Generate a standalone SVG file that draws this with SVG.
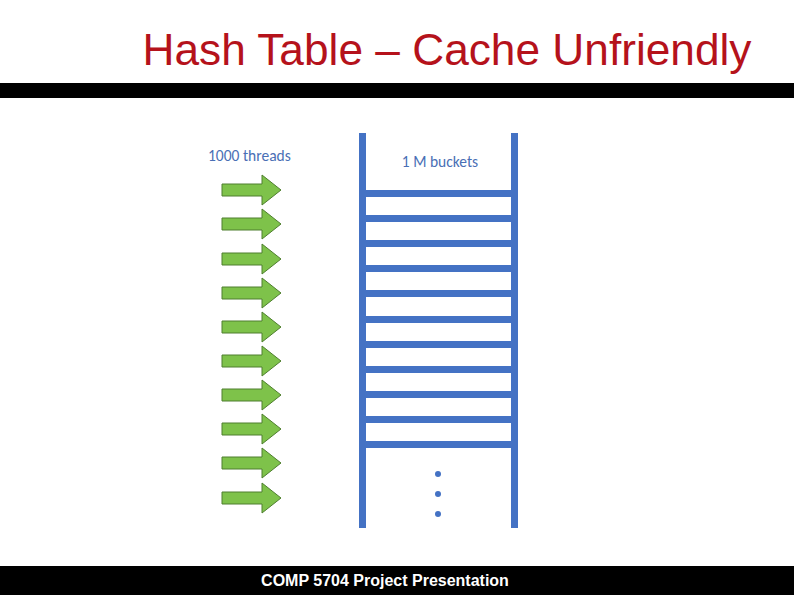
<svg xmlns="http://www.w3.org/2000/svg" width="794" height="595" viewBox="0 0 794 595">
<style>
.arr{fill:#7ec24a;stroke:#4f7f2f;stroke-width:1}
.rail{fill:#4472c4}
.lbl{font-family:Calibri,"Carlito","Liberation Sans",sans-serif;font-size:15.5px;fill:#4a6fb5}
</style>
<defs>
<polygon id="a" class="arr" points="222,-6 262,-6 262,-15 281,0 262,15 262,6 222,6"/>
</defs>
<rect width="794" height="595" fill="#fff"/>
<text x="447" y="65" text-anchor="middle" font-family="Liberation Sans,Arial,sans-serif" font-size="44" fill="#b5121b" textLength="609" lengthAdjust="spacingAndGlyphs">Hash Table – Cache Unfriendly</text>
<rect x="0" y="83" width="794" height="15" fill="#000"/>
<g id="threads">
<text class="lbl" x="208" y="161">1000 threads</text>
<use href="#a" y="190"/><use href="#a" y="224"/><use href="#a" y="259"/><use href="#a" y="293"/><use href="#a" y="327"/>
<use href="#a" y="361"/><use href="#a" y="395"/><use href="#a" y="429"/><use href="#a" y="463"/><use href="#a" y="498"/>
</g>
<g id="buckets">
<text class="lbl" x="440" y="167" text-anchor="middle">1 M buckets</text>
<rect class="rail" x="359" y="133" width="7" height="395"/>
<rect class="rail" x="511" y="133" width="7" height="395"/>
<rect class="rail" x="359" y="190" width="159" height="7"/>
<rect class="rail" x="359" y="215" width="159" height="7"/>
<rect class="rail" x="359" y="240" width="159" height="7"/>
<rect class="rail" x="359" y="265" width="159" height="7"/>
<rect class="rail" x="359" y="290" width="159" height="7"/>
<rect class="rail" x="359" y="316" width="159" height="7"/>
<rect class="rail" x="359" y="341" width="159" height="7"/>
<rect class="rail" x="359" y="366" width="159" height="7"/>
<rect class="rail" x="359" y="391" width="159" height="7"/>
<rect class="rail" x="359" y="416" width="159" height="7"/>
<rect class="rail" x="359" y="441" width="159" height="7"/>
<circle class="rail" cx="438" cy="474" r="3"/>
<circle class="rail" cx="438" cy="494" r="3"/>
<circle class="rail" cx="438" cy="514" r="3"/>
</g>
<rect x="0" y="566" width="794" height="29" fill="#000"/>
<text x="385" y="586" text-anchor="middle" font-family="Liberation Sans,Arial,sans-serif" font-size="16" font-weight="bold" fill="#fff">COMP 5704 Project Presentation</text>
</svg>
